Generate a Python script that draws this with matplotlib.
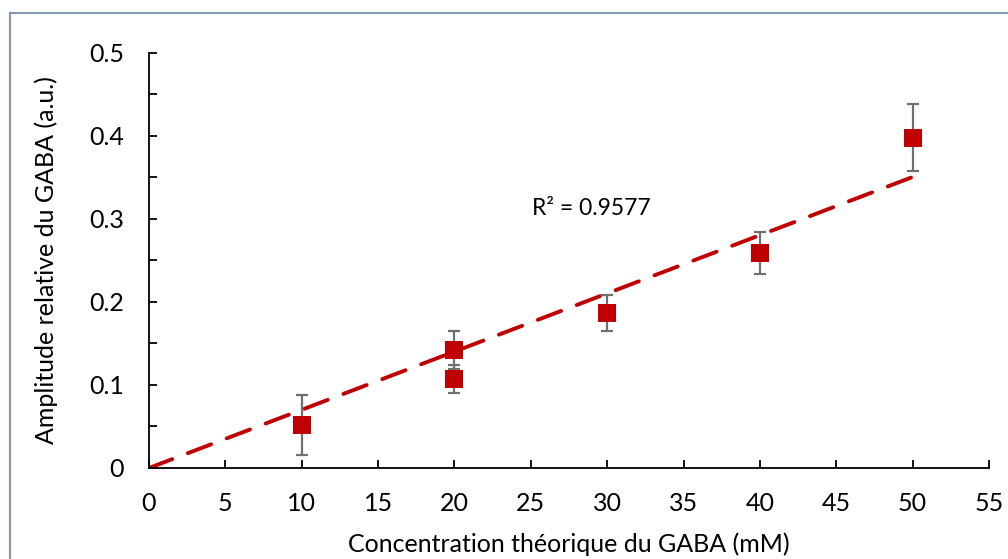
import matplotlib.pyplot as plt
import numpy as np
from matplotlib.patches import Rectangle

# data
concentration = [10, 20, 20, 30, 40, 50]
amplitude = [0.052, 0.142, 0.107, 0.187, 0.259, 0.398]
error = [0.036, 0.023, 0.017, 0.022, 0.025, 0.040]
r2_label = 'R² = 0.9577'

x_ticks = [0, 5, 10, 15, 20, 25, 30, 35, 40, 45, 50, 55]
y_ticks = [0, 0.1, 0.2, 0.3, 0.4, 0.5]
y_tick_labels = ['0', '0.1', '0.2', '0.3', '0.4', '0.5']

plt.rcParams['font.family'] = ['Lato', 'DejaVu Sans']

fig = plt.figure(figsize=(10.08, 5.59), dpi=100)
ax = fig.add_axes([0.1478, 0.1628, 0.8333, 0.7424])

# outer frame
fig.patches.append(Rectangle((10 / 1008, -0.05), 1.1, 1 - 13 / 559 + 0.05,
                             transform=fig.transFigure, fill=False,
                             edgecolor='#8497b0', linewidth=1.5, zorder=0))

# linear trendline through the origin
x = np.array(concentration)
y = np.array(amplitude)
slope = np.sum(x * y) / np.sum(x * x)
fit_x = np.array([0, 50])
ax.plot(fit_x, slope * fit_x, color='#C00000', linewidth=2.8,
        dashes=(6.4, 4.3), dash_capstyle='round', zorder=2)

ax.errorbar(concentration, amplitude, yerr=error, fmt='none',
            ecolor='#707070', elinewidth=1.6, capsize=4.5, capthick=1.6, zorder=3)
ax.plot(concentration, amplitude, 's', color='#C00000', markersize=13.5,
        markeredgewidth=0, zorder=4)

ax.text(25.1, 0.313, r2_label, fontsize=16.5, va='center', ha='left')

ax.set_xlim(0, 55)
ax.set_ylim(0, 0.5)
ax.set_xticks(x_ticks)
ax.set_yticks(y_ticks)
ax.set_yticklabels(y_tick_labels)
ax.set_yticks(np.arange(0.05, 0.5, 0.1), minor=True)

for side in ['top', 'right']:
    ax.spines[side].set_visible(False)
for side in ['left', 'bottom']:
    ax.spines[side].set_linewidth(1.3)

ax.tick_params(axis='both', which='both', direction='in', length=5.5, width=1.3,
               labelsize=18, colors='black')
ax.tick_params(axis='x', pad=17)
ax.tick_params(axis='y', pad=18)

ax.set_xlabel('Concentration théorique du GABA (mM)', fontsize=18, labelpad=13)
ax.set_ylabel('Amplitude relative du GABA (a.u.)', fontsize=18, labelpad=22)

plt.savefig('out.png', dpi=100)
